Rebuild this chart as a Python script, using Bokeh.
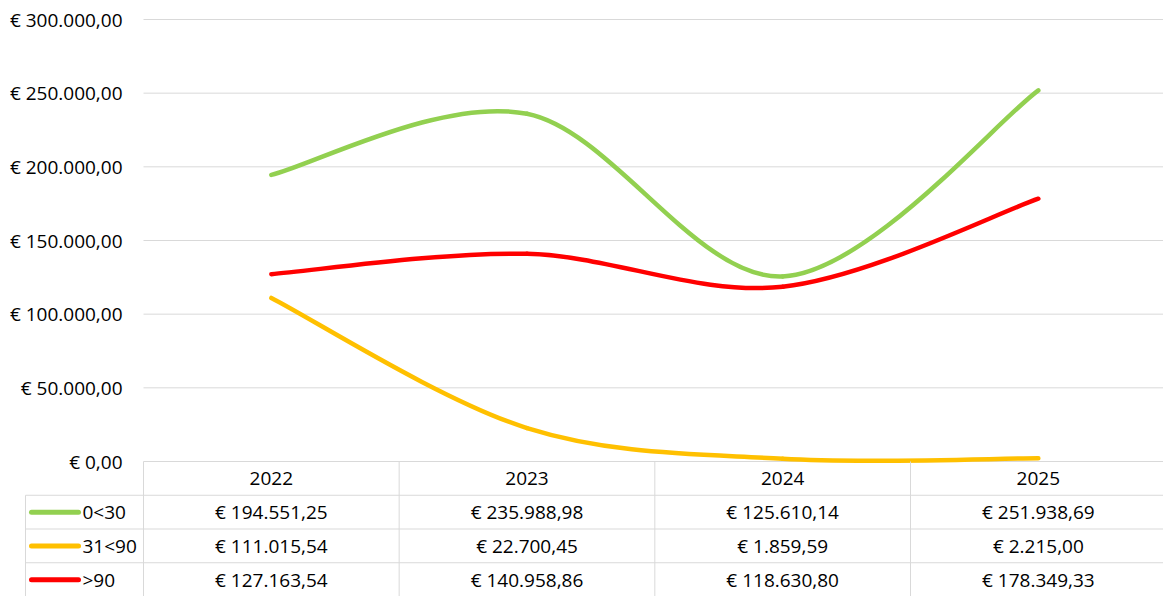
import numpy as np
from bokeh.plotting import figure
from bokeh.models import Range1d, ColumnDataSource
from bokeh.embed import file_html
from bokeh.resources import INLINE
from bokeh.core.properties import value

# ---------------- data ----------------
years = ["2022", "2023", "2024", "2025"]
series_names = ["0<30", "31<90", ">90"]
values_0_30 = [194551.25, 235988.98, 125610.14, 251938.69]
values_31_90 = [111015.54, 22700.45, 1859.59, 2215.00]
values_gt_90 = [127163.54, 140958.86, 118630.80, 178349.33]
series_colors = ["#92D050", "#FFC000", "#FF0000"]
y_ticks = [0, 50000, 100000, 150000, 200000, 250000, 300000]
y_tick_labels = ["€ 0,00", "€ 50.000,00", "€ 100.000,00", "€ 150.000,00",
                 "€ 200.000,00", "€ 250.000,00", "€ 300.000,00"]

all_series = [values_0_30, values_31_90, values_gt_90]

FONT = "Open Sans"
FSIZE = "19px"
GRID = "#D9D9D9"
TXT = "#000000"

W, H = 1163, 596
STEP = 255.67                       # px per category
PLOT_LEFT, PLOT_TOP, PLOT_BOTTOM = 143, 19, 461
X0 = -0.5 - PLOT_LEFT / STEP        # data x at page x = 0
X1 = X0 + W / STEP
EUR_PER_PX = (y_ticks[-1] - y_ticks[0]) / (PLOT_BOTTOM - PLOT_TOP)
Y_TOP = y_ticks[-1] + PLOT_TOP * EUR_PER_PX
Y_BOT = y_ticks[0] - (H - PLOT_BOTTOM) * EUR_PER_PX
ROW_PX = (H - PLOT_BOTTOM) / 4.0
T_TOP = 4 + PLOT_BOTTOM / ROW_PX


def px_x(px):
    return X0 + px / STEP


def fmt_eur(v):
    s = f"{v:,.2f}".replace(",", "X").replace(".", ",").replace("X", ".")
    return "€ " + s


p = figure(width=W, height=H, output_backend="svg", toolbar_location=None,
           x_range=Range1d(X0, X1), y_range=Range1d(Y_BOT, Y_TOP),
           min_border_left=0, min_border_right=0, min_border_top=0,
           min_border_bottom=0)
p.extra_y_ranges = {"table": Range1d(0, T_TOP)}
p.outline_line_color = None
p.axis.visible = False
p.grid.visible = False

# horizontal gridlines
n_t = len(y_ticks)
p.segment(x0=[px_x(PLOT_LEFT)] * n_t, y0=y_ticks, x1=[X1] * n_t, y1=y_ticks,
          line_color=GRID, line_width=1)
# y tick labels
p.text(x=[px_x(122)] * n_t, y=y_ticks, text=y_tick_labels, text_align="right",
       text_baseline="middle", text_font=value(FONT),
       text_font_size=value(FSIZE), text_color=TXT)

# smoothed lines (Bezier, Catmull-Rom style control points)
xs = np.arange(len(years), dtype=float)
for vals, col in zip(all_series, series_colors):
    y = np.array(vals, dtype=float)
    n = len(y)
    d = {k: [] for k in ["x0", "y0", "x1", "y1", "cx0", "cy0", "cx1", "cy1"]}
    for i in range(n - 1):
        ip = max(i - 1, 0)
        inx = min(i + 2, n - 1)
        d["x0"].append(xs[i]); d["y0"].append(y[i])
        d["x1"].append(xs[i + 1]); d["y1"].append(y[i + 1])
        d["cx0"].append(xs[i] + (xs[i + 1] - xs[ip]) / 6)
        d["cy0"].append(y[i] + (y[i + 1] - y[ip]) / 6)
        d["cx1"].append(xs[i + 1] - (xs[inx] - xs[i]) / 6)
        d["cy1"].append(y[i + 1] - (y[inx] - y[i]) / 6)
    p.bezier(x0="x0", y0="y0", x1="x1", y1="y1", cx0="cx0", cy0="cy0",
             cx1="cx1", cy1="cy1", source=ColumnDataSource(d), line_color=col,
             line_width=4.5, line_cap="round")

# ---------------- data table ----------------
LEG_LEFT = px_x(25)
p.segment(x0=[LEG_LEFT] * 3, y0=[3, 2, 1], x1=[X1] * 3, y1=[3, 2, 1],
          line_color=GRID, line_width=1, y_range_name="table")
vx = [-0.5 + k for k in range(len(years))]
p.segment(x0=vx, y0=[0] * len(vx), x1=vx, y1=[4] * len(vx),
          line_color=GRID, line_width=1, y_range_name="table")
p.segment(x0=[LEG_LEFT], y0=[0], x1=[LEG_LEFT], y1=[3],
          line_color=GRID, line_width=1, y_range_name="table")

p.text(x=list(xs), y=[3.5] * len(years), text=years, text_align="center",
       text_baseline="middle", text_font=value(FONT),
       text_font_size=value(FSIZE), text_color=TXT, y_range_name="table")

for r, (name, vals, col) in enumerate(zip(series_names, all_series, series_colors)):
    yc = 2.5 - r
    p.text(x=list(xs), y=[yc] * len(vals), text=[fmt_eur(v) for v in vals],
           text_align="center", text_baseline="middle", text_font=value(FONT),
           text_font_size=value(FSIZE), text_color=TXT, y_range_name="table")
    p.segment(x0=[px_x(31)], y0=[yc], x1=[px_x(78)], y1=[yc], line_color=col,
              line_width=5, line_cap="round", y_range_name="table")
    p.text(x=[px_x(82)], y=[yc], text=[name], text_align="left",
           text_baseline="middle", text_font=value(FONT),
           text_font_size=value(FSIZE), text_color=TXT, y_range_name="table")

open("out.html", "w").write(file_html(p, INLINE))
